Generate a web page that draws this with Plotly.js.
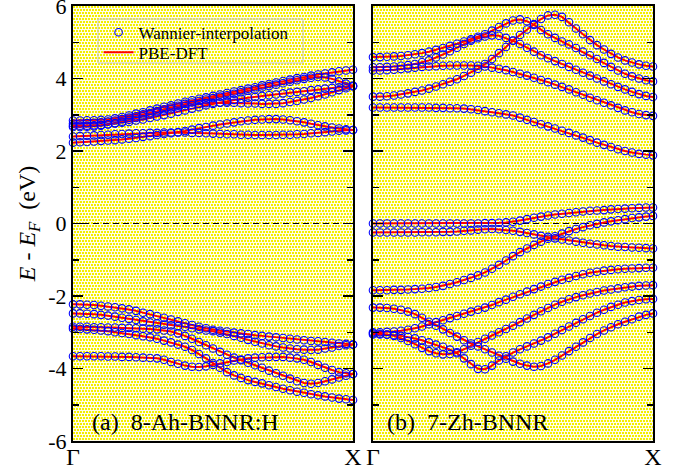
<!DOCTYPE html>
<html>
<head>
<meta charset="utf-8">
<script src="https://cdn.plot.ly/plotly-3.0.1.min.js"></script>
<style>html,body{margin:0;padding:0;background:#fff;}#chart{width:690px;height:472px;}</style>
</head>
<body>
<div id="chart"></div>
<script>
// k-path fraction from Gamma (0) to X (1)
const kpts = [0,0.025,0.05,0.075,0.1,0.125,0.15,0.175,0.2,0.225,0.25,0.275,0.3,0.325,0.35,0.375,0.4,0.425,0.45,0.475,0.5,0.525,0.55,0.575,0.6,0.625,0.65,0.675,0.7,0.725,0.75,0.775,0.8,0.825,0.85,0.875,0.9,0.925,0.95,0.975,1];

// ---- panel (a) 8-Ah-BNNR:H, energies in eV ----
const a_c1 = [2.23,2.24,2.25,2.26,2.28,2.29,2.30,2.32,2.34,2.36,2.39,2.41,2.44,2.47,2.49,2.52,2.55,2.59,2.63,2.66,2.70,2.73,2.76,2.79,2.82,2.84,2.86,2.87,2.88,2.88,2.87,2.85,2.82,2.79,2.75,2.71,2.68,2.65,2.62,2.60,2.58];
const a_c2 = [2.40,2.41,2.42,2.43,2.44,2.45,2.46,2.47,2.48,2.49,2.49,2.50,2.50,2.51,2.51,2.51,2.51,2.50,2.50,2.49,2.48,2.47,2.46,2.46,2.45,2.45,2.44,2.44,2.44,2.44,2.45,2.45,2.46,2.47,2.49,2.50,2.52,2.54,2.56,2.57,2.58];
const a_c3 = [2.84,2.84,2.85,2.85,2.86,2.87,2.90,2.94,2.98,3.03,3.07,3.12,3.17,3.22,3.26,3.31,3.36,3.40,3.44,3.48,3.52,3.56,3.60,3.64,3.68,3.72,3.76,3.81,3.85,3.89,3.93,3.97,4.01,4.04,4.08,4.11,4.14,4.17,4.20,4.22,4.24];
const a_c4 = [2.76,2.76,2.77,2.78,2.79,2.81,2.84,2.88,2.92,2.96,3.01,3.05,3.10,3.15,3.20,3.25,3.30,3.34,3.38,3.42,3.46,3.50,3.54,3.58,3.62,3.66,3.70,3.75,3.79,3.83,3.87,3.91,3.95,3.99,4.02,4.04,4.03,3.99,3.92,3.86,3.80];
const a_c5 = [2.70,2.70,2.70,2.71,2.72,2.74,2.76,2.78,2.80,2.84,2.87,2.91,2.95,2.99,3.03,3.08,3.12,3.17,3.21,3.26,3.30,3.34,3.37,3.41,3.44,3.47,3.49,3.52,3.54,3.56,3.59,3.61,3.63,3.65,3.68,3.70,3.72,3.74,3.76,3.78,3.80];
const a_c6 = [2.66,2.66,2.67,2.68,2.70,2.73,2.77,2.81,2.86,2.91,2.96,3.01,3.06,3.11,3.15,3.20,3.24,3.27,3.30,3.32,3.33,3.33,3.33,3.33,3.32,3.31,3.31,3.30,3.30,3.30,3.32,3.35,3.38,3.42,3.46,3.51,3.56,3.62,3.68,3.73,3.78];
const a_v1 = [-2.23,-2.23,-2.24,-2.25,-2.27,-2.29,-2.31,-2.34,-2.37,-2.41,-2.46,-2.50,-2.55,-2.60,-2.65,-2.70,-2.75,-2.80,-2.85,-2.89,-2.93,-2.96,-2.98,-3.01,-3.03,-3.05,-3.08,-3.10,-3.12,-3.14,-3.16,-3.18,-3.20,-3.22,-3.24,-3.25,-3.27,-3.29,-3.31,-3.32,-3.34];
const a_v2 = [-2.48,-2.48,-2.49,-2.50,-2.52,-2.54,-2.57,-2.60,-2.63,-2.66,-2.70,-2.73,-2.76,-2.79,-2.81,-2.83,-2.85,-2.89,-2.92,-2.95,-2.97,-3.01,-3.05,-3.10,-3.15,-3.21,-3.26,-3.31,-3.36,-3.39,-3.42,-3.45,-3.47,-3.48,-3.49,-3.48,-3.45,-3.42,-3.38,-3.36,-3.34];
const a_v3 = [-2.85,-2.85,-2.85,-2.86,-2.86,-2.87,-2.87,-2.88,-2.88,-2.89,-2.90,-2.91,-2.92,-2.95,-2.98,-3.03,-3.10,-3.18,-3.27,-3.36,-3.45,-3.54,-3.62,-3.70,-3.77,-3.84,-3.91,-3.98,-4.06,-4.13,-4.20,-4.28,-4.35,-4.40,-4.42,-4.40,-4.35,-4.30,-4.25,-4.20,-4.15];
const a_v4 = [-2.90,-2.91,-2.92,-2.93,-2.95,-2.97,-3.00,-3.02,-3.05,-3.08,-3.11,-3.14,-3.18,-3.23,-3.28,-3.34,-3.40,-3.49,-3.60,-3.72,-3.85,-3.98,-4.10,-4.19,-4.26,-4.32,-4.37,-4.41,-4.46,-4.51,-4.56,-4.60,-4.64,-4.67,-4.71,-4.74,-4.77,-4.80,-4.83,-4.85,-4.87];
const a_v5 = [-3.66,-3.66,-3.66,-3.66,-3.66,-3.67,-3.67,-3.68,-3.68,-3.69,-3.70,-3.71,-3.72,-3.76,-3.82,-3.87,-3.92,-3.95,-3.96,-3.94,-3.90,-3.86,-3.82,-3.78,-3.75,-3.72,-3.70,-3.69,-3.68,-3.68,-3.68,-3.70,-3.72,-3.76,-3.82,-3.90,-3.98,-4.04,-4.10,-4.13,-4.15];

// ---- panel (b) 7-Zh-BNNR, energies in eV ----
const b_c1 = [3.50,3.50,3.51,3.53,3.56,3.59,3.63,3.67,3.72,3.78,3.84,3.91,3.98,4.07,4.16,4.27,4.40,4.54,4.70,4.87,5.05,5.20,5.35,5.50,5.64,5.74,5.76,5.70,5.55,5.38,5.22,5.06,4.92,4.80,4.68,4.58,4.50,4.44,4.39,4.35,4.33];
const b_c2 = [4.59,4.59,4.60,4.61,4.62,4.64,4.67,4.70,4.74,4.79,4.84,4.90,4.96,5.02,5.08,5.15,5.22,5.32,5.42,5.52,5.60,5.63,5.58,5.48,5.34,5.22,5.12,5.02,4.94,4.84,4.74,4.64,4.54,4.43,4.32,4.22,4.13,4.06,4.00,3.95,3.92];
const b_c3 = [4.31,4.31,4.32,4.33,4.35,4.37,4.40,4.45,4.50,4.58,4.66,4.75,4.85,4.95,5.04,5.11,5.16,5.19,5.18,5.12,5.04,4.95,4.85,4.74,4.64,4.56,4.48,4.40,4.32,4.24,4.16,4.08,4.00,3.92,3.84,3.77,3.70,3.63,3.57,3.52,3.49];
const b_c4 = [4.22,4.22,4.23,4.24,4.26,4.28,4.30,4.32,4.33,4.34,4.35,4.36,4.36,4.36,4.36,4.35,4.33,4.30,4.27,4.23,4.18,4.13,4.08,4.02,3.96,3.90,3.83,3.77,3.70,3.62,3.55,3.47,3.40,3.33,3.26,3.19,3.12,3.07,3.02,2.99,2.97];
const b_c5 = [3.20,3.20,3.20,3.20,3.20,3.20,3.20,3.20,3.20,3.19,3.19,3.18,3.18,3.17,3.15,3.13,3.10,3.07,3.04,3.01,2.98,2.92,2.86,2.80,2.74,2.68,2.62,2.56,2.50,2.43,2.37,2.30,2.23,2.17,2.11,2.05,2.00,1.96,1.92,1.90,1.88];
const b_v1 = [0.00,0.00,0.00,0.00,0.00,0.00,0.00,0.00,0.00,0.00,0.00,0.00,0.00,0.00,0.00,0.00,0.01,0.01,0.02,0.03,0.05,0.08,0.12,0.16,0.19,0.22,0.25,0.27,0.29,0.31,0.33,0.35,0.36,0.37,0.39,0.40,0.41,0.42,0.43,0.44,0.44];
const b_v2 = [-0.25,-0.25,-0.25,-0.25,-0.25,-0.25,-0.25,-0.24,-0.24,-0.24,-0.23,-0.23,-0.22,-0.20,-0.19,-0.17,-0.16,-0.15,-0.16,-0.18,-0.20,-0.23,-0.26,-0.30,-0.34,-0.37,-0.41,-0.44,-0.47,-0.50,-0.53,-0.56,-0.58,-0.60,-0.62,-0.64,-0.65,-0.66,-0.67,-0.68,-0.69];
const b_v3 = [-1.84,-1.84,-1.84,-1.83,-1.83,-1.82,-1.81,-1.80,-1.78,-1.75,-1.72,-1.67,-1.62,-1.56,-1.50,-1.43,-1.35,-1.25,-1.14,-1.02,-0.90,-0.79,-0.69,-0.59,-0.50,-0.42,-0.35,-0.28,-0.21,-0.15,-0.10,-0.05,-0.01,0.03,0.06,0.09,0.12,0.15,0.17,0.19,0.21];
const b_v4 = [-2.32,-2.32,-2.33,-2.35,-2.38,-2.43,-2.50,-2.60,-2.71,-2.82,-2.92,-3.02,-3.12,-3.22,-3.31,-3.39,-3.47,-3.56,-3.65,-3.73,-3.81,-3.87,-3.92,-3.95,-3.93,-3.86,-3.76,-3.64,-3.52,-3.40,-3.28,-3.16,-3.05,-2.95,-2.86,-2.78,-2.71,-2.64,-2.57,-2.52,-2.48];
const b_v5 = [-3.00,-3.00,-2.99,-2.98,-2.96,-2.93,-2.89,-2.84,-2.78,-2.72,-2.67,-2.61,-2.55,-2.49,-2.43,-2.38,-2.32,-2.25,-2.17,-2.10,-2.02,-1.95,-1.88,-1.81,-1.74,-1.67,-1.61,-1.55,-1.50,-1.45,-1.40,-1.36,-1.33,-1.30,-1.28,-1.26,-1.25,-1.24,-1.23,-1.22,-1.22];
const b_v6 = [-3.03,-3.04,-3.06,-3.10,-3.16,-3.24,-3.33,-3.43,-3.52,-3.58,-3.61,-3.60,-3.55,-3.47,-3.37,-3.27,-3.18,-3.09,-3.00,-2.91,-2.82,-2.72,-2.62,-2.52,-2.42,-2.33,-2.24,-2.16,-2.09,-2.03,-1.98,-1.93,-1.89,-1.85,-1.82,-1.79,-1.76,-1.74,-1.72,-1.71,-1.70];
const b_v7 = [-3.06,-3.06,-3.07,-3.08,-3.10,-3.13,-3.17,-3.22,-3.28,-3.34,-3.40,-3.48,-3.58,-3.72,-3.88,-4.01,-4.02,-3.92,-3.78,-3.66,-3.56,-3.47,-3.39,-3.31,-3.23,-3.14,-3.04,-2.94,-2.84,-2.74,-2.64,-2.55,-2.46,-2.38,-2.30,-2.24,-2.18,-2.14,-2.11,-2.09,-2.08];

const bandsA = [a_c1,a_c2,a_c3,a_c4,a_c5,a_c6,a_v1,a_v2,a_v3,a_v4,a_v5];
const bandsB = [b_c1,b_c2,b_c3,b_c4,b_c5,b_v1,b_v2,b_v3,b_v4,b_v5,b_v6,b_v7];

const xTickVals = [0, 1];
const xTickText = ['Γ', 'X'];
const yTickVals = [-6, -4, -2, 0, 2, 4, 6];
const yTickText = ['-6', '-4', '-2', '0', '2', '4', '6'];
const yMinorVals = [-5, -3, -1, 1, 3, 5];
const fermiLevel = 0;
const seriesNames = ['Wannier-interpolation', 'PBE-DFT'];
const panelLabels = ['(a)\u00a0\u00a08-Ah-BNNR:H', '(b)\u00a0\u00a07-Zh-BNNR'];

const FONT = 'Liberation Serif';
function tf(size) { return {family: FONT, size: size, color: '#000000'}; }

const traces = [];
function addBands(bands, xa, ya, first) {
  bands.forEach((b, i) => {
    traces.push({x: kpts, y: b, xaxis: xa, yaxis: ya, type: 'scatter', mode: 'lines',
      line: {color: '#ff0000', width: 2}, name: seriesNames[1], legend: 'legend2',
      showlegend: first && i === 0, cliponaxis: false, hoverinfo: 'skip'});
  });
}
function addMarkers(bands, xa, ya, first) {
  bands.forEach((b, i) => {
    traces.push({x: kpts, y: b, xaxis: xa, yaxis: ya, type: 'scatter', mode: 'markers',
      marker: {symbol: 'circle-open', size: 7.5, color: '#0000ff', line: {width: 1.1, color: '#0000ff'}},
      name: seriesNames[0], legend: 'legend',
      showlegend: first && i === 0, cliponaxis: false, hoverinfo: 'skip'});
  });
}
addBands(bandsA, 'x', 'y', true);
addBands(bandsB, 'x2', 'y2', false);
addMarkers(bandsA, 'x', 'y', true);
addMarkers(bandsB, 'x2', 'y2', false);

function makePattern(w, h) {
  const c = document.createElement('canvas');
  c.width = w; c.height = h;
  const ctx = c.getContext('2d');
  ctx.fillStyle = '#fffde8';
  ctx.fillRect(0, 0, w, h);
  ctx.fillStyle = '#f4ef00';
  for (let yy = 0; yy < h; yy += 3) {
    for (let xx = (yy / 3) % 2; xx < w; xx += 3) ctx.fillRect(xx, yy, 2, 2);
  }
  return c.toDataURL('image/png');
}

const W = 690, H = 472;
const M = {l: 73, r: 37, t: 6, b: 31};
const domA = [0, 0.4828], domB = [0.5172, 1];
const plotW = W - M.l - M.r, plotH = H - M.t - M.b;
const patA = makePattern(Math.round((domA[1] - domA[0]) * plotW), plotH);
const patB = makePattern(Math.round((domB[1] - domB[0]) * plotW), plotH);

function xAxis(dom, anchor) {
  return {domain: dom, anchor: anchor, range: [0, 1], tickmode: 'array', tickvals: xTickVals, ticktext: xTickText,
    ticks: '', ticklabelstandoff: -7, ticklabeloverflow: 'allow',
    showline: true, linewidth: 2, linecolor: '#000000', mirror: true, showgrid: false, zeroline: false,
    tickfont: tf(24), fixedrange: true};
}
function yAxis(anchor, labels) {
  return {anchor: anchor, range: [-6, 6], tickmode: 'array', tickvals: yTickVals, ticktext: yTickText,
    showticklabels: labels, ticklabeloverflow: 'allow', ticks: 'inside', ticklen: 10, tickwidth: 1.5, tickcolor: '#000000',
    minor: {tickmode: 'array', tickvals: yMinorVals, ticks: 'inside', ticklen: 6, tickwidth: 1.5, tickcolor: '#000000', showgrid: false},
    showline: true, linewidth: 2, linecolor: '#000000', mirror: 'ticks', showgrid: false, zeroline: false,
    tickfont: tf(22), fixedrange: true};
}

const yA = yAxis('x', true);
yA.title = {text: '<i>E</i> - <i>E</i><sub><i>F</i></sub>\u00a0 (eV)', font: tf(24), standoff: 6};

// legend box geometry (paper coordinates)
const legBox = {x0: 0.0431, x1: 0.3966, y0: 0.869, y1: 0.970};
const legRows = [0.9386, 0.8926];
function legendAt(y) {
  return {x: legBox.x0 + 0.001, y: y, xanchor: 'left', yanchor: 'middle', bgcolor: 'rgba(0,0,0,0)',
    borderwidth: 0, font: tf(17), tracegroupgap: 0, itemwidth: 30};
}

const layout = {
  width: W, height: H, margin: M,
  paper_bgcolor: '#ffffff', plot_bgcolor: '#faf78a',
  font: {family: FONT, size: 22, color: '#000000'},
  xaxis: xAxis(domA, 'y'),
  xaxis2: xAxis(domB, 'y2'),
  yaxis: yA,
  yaxis2: yAxis('x2', false),
  showlegend: true,
  legend: legendAt(legRows[0]),
  legend2: legendAt(legRows[1]),
  images: [
    {source: patA, xref: 'paper', yref: 'paper', x: domA[0], y: 1, sizex: domA[1] - domA[0], sizey: 1, sizing: 'stretch', xanchor: 'left', yanchor: 'top', layer: 'below'},
    {source: patB, xref: 'paper', yref: 'paper', x: domB[0], y: 1, sizex: domB[1] - domB[0], sizey: 1, sizing: 'stretch', xanchor: 'left', yanchor: 'top', layer: 'below'}
  ],
  shapes: [
    {type: 'line', xref: 'x domain', yref: 'y', x0: 0, x1: 1, y0: fermiLevel, y1: fermiLevel, layer: 'below', line: {color: '#000000', width: 1, dash: '6px,4px'}},
    {type: 'line', xref: 'x2 domain', yref: 'y2', x0: 0, x1: 1, y0: fermiLevel, y1: fermiLevel, layer: 'below', line: {color: '#000000', width: 1, dash: '6px,4px'}},
    {type: 'rect', xref: 'paper', yref: 'paper', x0: legBox.x0, x1: legBox.x1, y0: legBox.y0, y1: legBox.y1, layer: 'above', line: {color: '#c8c8c8', width: 1}, fillcolor: 'rgba(0,0,0,0)'}
  ],
  annotations: [
    {text: panelLabels[0], xref: 'x domain', yref: 'y domain', x: 0.059, y: 0.044, xanchor: 'left', yanchor: 'middle', showarrow: false, font: tf(24)},
    {text: panelLabels[1], xref: 'x2 domain', yref: 'y2 domain', x: 0.043, y: 0.044, xanchor: 'left', yanchor: 'middle', showarrow: false, font: tf(24)}
  ]
};

Plotly.newPlot('chart', traces, layout, {staticPlot: true, displayModeBar: false});
</script>
</body>
</html>
